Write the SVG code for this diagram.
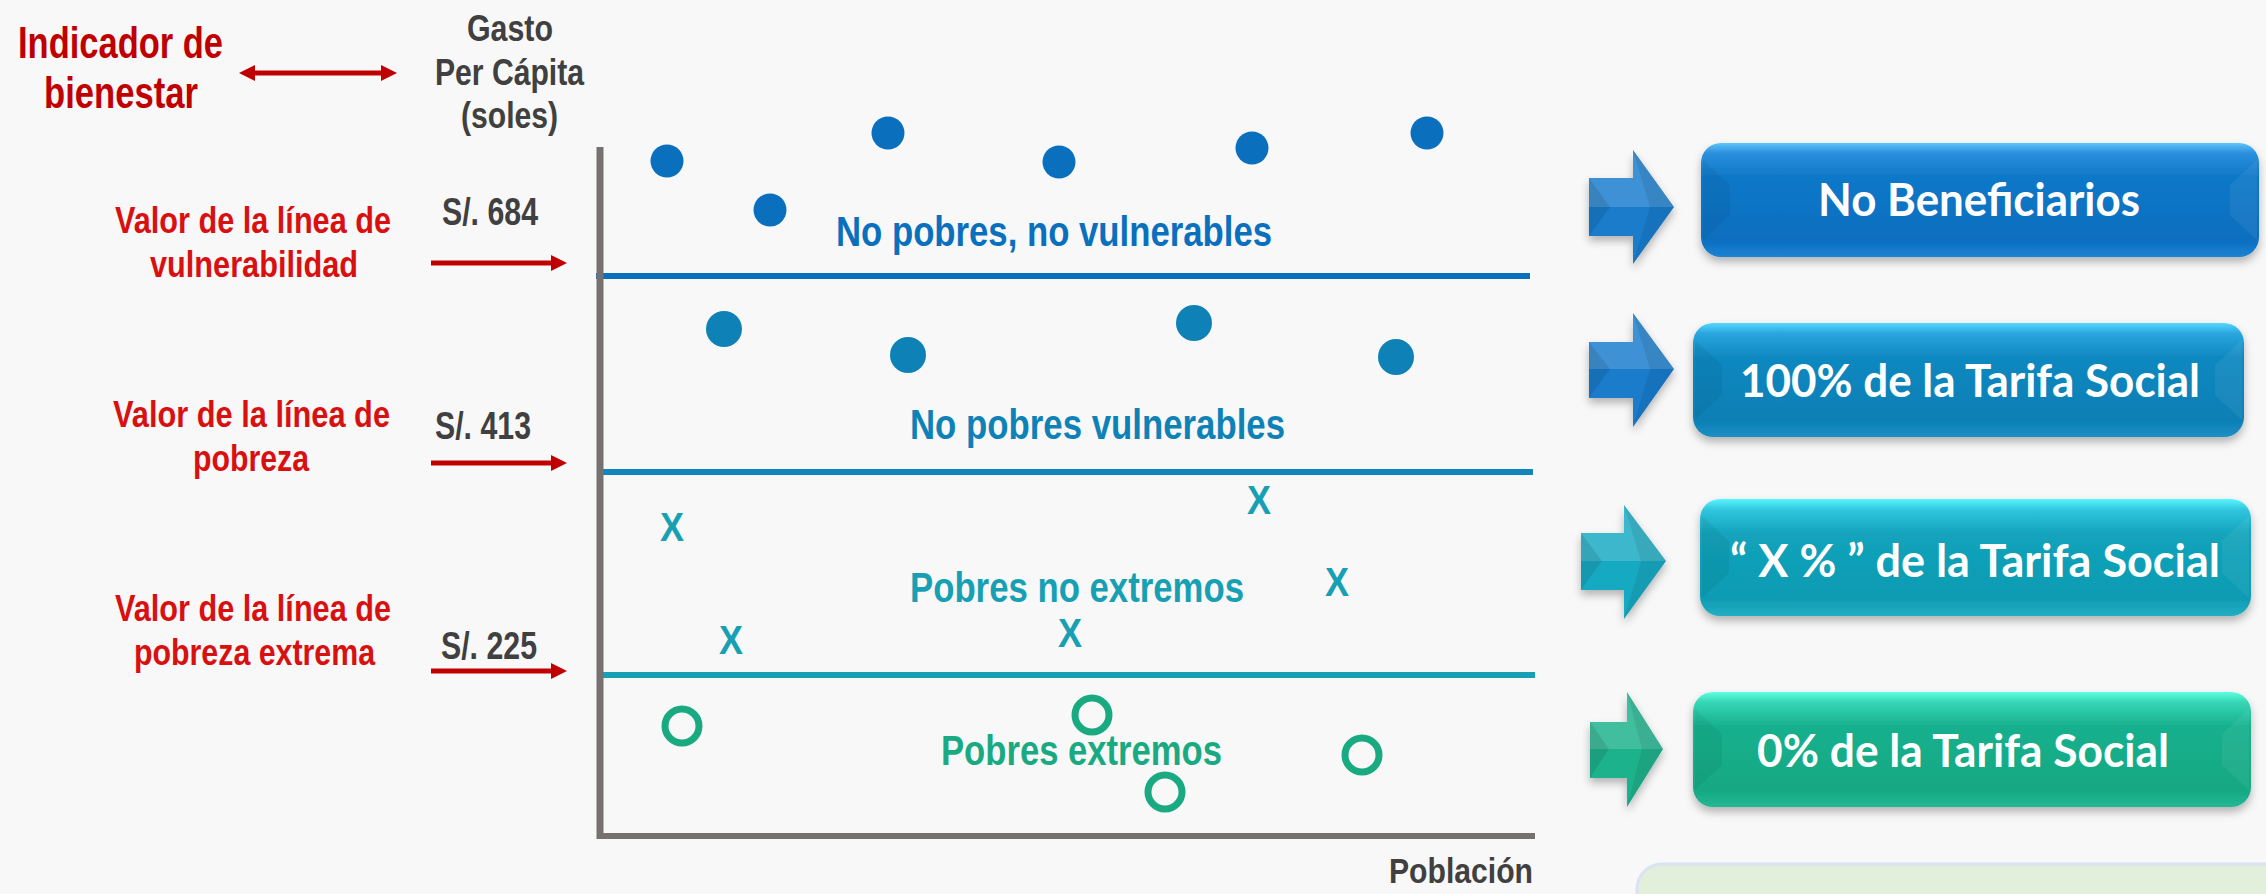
<svg xmlns="http://www.w3.org/2000/svg" width="2266" height="894" viewBox="0 0 2266 894">
<defs>
<style>
.nar{font-family:"Liberation Sans Narrow","Liberation Sans",Arial,sans-serif;font-weight:bold}
.red1{fill:#c00000}
.red2{fill:#d81010}
.gray{fill:#404040}
.bx{font-family:Lato,"Open Sans","Liberation Sans",sans-serif;font-weight:bold;fill:#ffffff;font-size:45px;text-anchor:middle}
.rl{stroke-width:5;fill:none}
</style>
<marker id="rh" viewBox="0 0 16 16" refX="2" refY="8" markerWidth="16" markerHeight="16" markerUnits="userSpaceOnUse" orient="auto-start-reverse">
<path d="M0,0 L16,8 L0,16 z" fill="#c00000"/>
</marker>
<filter id="sh" x="-10%" y="-20%" width="120%" height="150%">
<feDropShadow dx="0" dy="5" stdDeviation="4" flood-color="#000" flood-opacity="0.28"/>
</filter>
<linearGradient id="g1" x1="0" y1="0" x2="0" y2="1">
<stop offset="0" stop-color="#5ec4fa"/><stop offset="0.09" stop-color="#2a8fdc"/><stop offset="0.3" stop-color="#0f78c8"/><stop offset="0.85" stop-color="#0a6ebf"/><stop offset="1" stop-color="#1c82d2"/>
</linearGradient>
<linearGradient id="g2" x1="0" y1="0" x2="0" y2="1">
<stop offset="0" stop-color="#55d8ff"/><stop offset="0.09" stop-color="#2aa6de"/><stop offset="0.3" stop-color="#1088c0"/><stop offset="0.85" stop-color="#0b7fb5"/><stop offset="1" stop-color="#1c90c6"/>
</linearGradient>
<linearGradient id="g3" x1="0" y1="0" x2="0" y2="1">
<stop offset="0" stop-color="#58f6ff"/><stop offset="0.09" stop-color="#30c6de"/><stop offset="0.3" stop-color="#12a3bb"/><stop offset="0.85" stop-color="#0f9bb2"/><stop offset="1" stop-color="#22afc4"/>
</linearGradient>
<linearGradient id="g4" x1="0" y1="0" x2="0" y2="1">
<stop offset="0" stop-color="#5cffe0"/><stop offset="0.09" stop-color="#36d6b4"/><stop offset="0.3" stop-color="#18b08e"/><stop offset="0.85" stop-color="#13a882"/><stop offset="1" stop-color="#25b894"/>
</linearGradient>
</defs>
<rect x="0" y="0" width="2266" height="894" fill="#f8f8f8"/>

<g id="header">
<text class="nar red1" x="18" y="58" font-size="45" textLength="205" lengthAdjust="spacingAndGlyphs">Indicador de</text>
<text class="nar red1" x="44" y="108" font-size="45" textLength="154" lengthAdjust="spacingAndGlyphs">bienestar</text>
<text class="nar gray" x="467" y="41" font-size="37" textLength="86" lengthAdjust="spacingAndGlyphs">Gasto</text>
<text class="nar gray" x="435" y="85" font-size="37" textLength="149" lengthAdjust="spacingAndGlyphs">Per Cápita</text>
<text class="nar gray" x="461" y="128" font-size="37" textLength="97" lengthAdjust="spacingAndGlyphs">(soles)</text>
</g>

<g id="label-vulnerabilidad">
<text class="nar red2" x="115" y="233" font-size="36" textLength="276" lengthAdjust="spacingAndGlyphs">Valor de la línea de</text>
<text class="nar red2" x="150" y="277" font-size="36" textLength="208" lengthAdjust="spacingAndGlyphs">vulnerabilidad</text>
<text class="nar gray" x="442" y="225" font-size="38" textLength="96" lengthAdjust="spacingAndGlyphs">S/. 684</text>
</g>
<g id="label-pobreza">
<text class="nar red2" x="113" y="427" font-size="36" textLength="277" lengthAdjust="spacingAndGlyphs">Valor de la línea de</text>
<text class="nar red2" x="193" y="471" font-size="36" textLength="116" lengthAdjust="spacingAndGlyphs">pobreza</text>
<text class="nar gray" x="435" y="439" font-size="38" textLength="96" lengthAdjust="spacingAndGlyphs">S/. 413</text>
</g>
<g id="label-extrema">
<text class="nar red2" x="115" y="621" font-size="36" textLength="276" lengthAdjust="spacingAndGlyphs">Valor de la línea de</text>
<text class="nar red2" x="134" y="665" font-size="36" textLength="241" lengthAdjust="spacingAndGlyphs">pobreza extrema</text>
<text class="nar gray" x="441" y="659" font-size="38" textLength="96" lengthAdjust="spacingAndGlyphs">S/. 225</text>
</g>

<g id="connectors">
<line class="rl" x1="253" y1="73" x2="383" y2="73" stroke="#c00000" marker-start="url(#rh)" marker-end="url(#rh)"/>
<line class="rl" x1="431" y1="263" x2="553" y2="263" stroke="#c00000" marker-end="url(#rh)"/>
<line class="rl" x1="431" y1="463" x2="553" y2="463" stroke="#c00000" marker-end="url(#rh)"/>
<line class="rl" x1="431" y1="671" x2="553" y2="671" stroke="#c00000" marker-end="url(#rh)"/>
</g>

<g id="chart">
<line x1="596" y1="276" x2="1530" y2="276" stroke="#0a70be" stroke-width="6"/>
<line x1="602" y1="472" x2="1533" y2="472" stroke="#1184bb" stroke-width="6"/>
<line x1="602" y1="675" x2="1535" y2="675" stroke="#17a0b4" stroke-width="6"/>
<line x1="600" y1="147" x2="600" y2="839" stroke="#767171" stroke-width="7"/>
<line x1="597" y1="836" x2="1535" y2="836" stroke="#767171" stroke-width="6"/>
<text class="nar gray" x="1389" y="883" font-size="35" textLength="144" lengthAdjust="spacingAndGlyphs">Población</text>
</g>

<g id="no-pobres-no-vulnerables" fill="#0a70be">
<circle cx="667" cy="161" r="16.5"/><circle cx="770" cy="210" r="16.5"/><circle cx="888" cy="133" r="16.5"/>
<circle cx="1059" cy="162" r="16.5"/><circle cx="1252" cy="148" r="16.5"/><circle cx="1427" cy="133" r="16.5"/>
<text class="nar" x="836" y="246" font-size="43" textLength="436" lengthAdjust="spacingAndGlyphs">No pobres, no vulnerables</text>
</g>
<g id="no-pobres-vulnerables" fill="#0e82b7">
<circle cx="724" cy="329" r="18"/><circle cx="908" cy="355" r="18"/><circle cx="1194" cy="323" r="18"/><circle cx="1396" cy="357" r="18"/>
<text class="nar" x="910" y="439" font-size="43" textLength="375" lengthAdjust="spacingAndGlyphs">No pobres vulnerables</text>
</g>
<g id="pobres-no-extremos" fill="#17a0b4">
<text class="nar" x="660" y="541" font-size="40" textLength="24" lengthAdjust="spacingAndGlyphs">X</text>
<text class="nar" x="1247" y="514" font-size="40" textLength="24" lengthAdjust="spacingAndGlyphs">X</text>
<text class="nar" x="1325" y="596" font-size="40" textLength="24" lengthAdjust="spacingAndGlyphs">X</text>
<text class="nar" x="719" y="654" font-size="40" textLength="24" lengthAdjust="spacingAndGlyphs">X</text>
<text class="nar" x="1058" y="647" font-size="40" textLength="24" lengthAdjust="spacingAndGlyphs">X</text>
<text class="nar" x="910" y="602" font-size="43" textLength="334" lengthAdjust="spacingAndGlyphs">Pobres no extremos</text>
</g>
<g id="pobres-extremos">
<g fill="none" stroke="#1aaa82" stroke-width="7">
<circle cx="682" cy="726" r="17"/><circle cx="1092" cy="715" r="17"/><circle cx="1362" cy="755" r="17"/><circle cx="1165" cy="792" r="17"/>
</g>
<text class="nar" fill="#1aaa82" x="941" y="765" font-size="43" textLength="281" lengthAdjust="spacingAndGlyphs">Pobres extremos</text>
</g>

<g id="arrow1" filter="url(#sh)">
<polygon points="1589,178 1633,178 1633,150 1674,207 1633,264 1633,236 1589,236" fill="#1a7ccc"/>
<polygon points="1589,178 1633,178 1633,150 1674,207 1589,207" fill="#ffffff" opacity="0.16"/>
<polygon points="1589,178 1610,207 1589,236" fill="#000" opacity="0.1"/>
<polygon points="1633,150 1650,207 1633,264 1674,207" fill="#000" opacity="0.08"/>
</g>
<g id="box-no-beneficiarios">
<rect x="1701" y="143" width="558" height="114" rx="20" fill="url(#g1)" filter="url(#sh)"/>
<polygon points="1703,160 1730,185 1730,215 1703,240" fill="#000" opacity="0.05"/>
<polygon points="2257,160 2230,185 2230,215 2257,240" fill="#fff" opacity="0.06"/>
<text class="bx" x="1979" y="216" textLength="322" lengthAdjust="spacingAndGlyphs">No Beneficiarios</text>
</g>

<g id="arrow2" filter="url(#sh)">
<polygon points="1589,342 1633,342 1633,313 1674,369 1633,427 1633,398 1589,398" fill="#1a7ccc"/>
<polygon points="1589,342 1633,342 1633,313 1674,369 1589,369" fill="#ffffff" opacity="0.16"/>
<polygon points="1589,342 1610,369 1589,398" fill="#000" opacity="0.1"/>
<polygon points="1633,313 1650,369 1633,427 1674,369" fill="#000" opacity="0.08"/>
</g>
<g id="box-100">
<rect x="1693" y="323" width="551" height="114" rx="20" fill="url(#g2)" filter="url(#sh)"/>
<polygon points="1695,340 1722,365 1722,395 1695,420" fill="#000" opacity="0.05"/>
<polygon points="2242,340 2215,365 2215,395 2242,420" fill="#fff" opacity="0.06"/>
<text class="bx" x="1970" y="397" textLength="460" lengthAdjust="spacingAndGlyphs">100% de la Tarifa Social</text>
</g>

<g id="arrow3" filter="url(#sh)">
<polygon points="1581,533 1624,533 1624,505 1666,561 1624,619 1624,590 1581,590" fill="#17aac2"/>
<polygon points="1581,533 1624,533 1624,505 1666,561 1581,561" fill="#ffffff" opacity="0.16"/>
<polygon points="1581,533 1602,561 1581,590" fill="#000" opacity="0.1"/>
<polygon points="1624,505 1641,561 1624,619 1666,561" fill="#000" opacity="0.08"/>
</g>
<g id="box-x">
<rect x="1700" y="499" width="551" height="117" rx="20" fill="url(#g3)" filter="url(#sh)"/>
<polygon points="1702,516 1729,541 1729,573 1702,598" fill="#000" opacity="0.05"/>
<polygon points="2249,516 2222,541 2222,573 2249,598" fill="#fff" opacity="0.06"/>
<text class="bx" x="1975" y="577" textLength="490" lengthAdjust="spacingAndGlyphs">“ X % ” de la Tarifa Social</text>
</g>

<g id="arrow4" filter="url(#sh)">
<polygon points="1590,722 1627,722 1627,692 1663,749 1627,807 1627,778 1590,778" fill="#1db28c"/>
<polygon points="1590,722 1627,722 1627,692 1663,749 1590,749" fill="#ffffff" opacity="0.16"/>
<polygon points="1590,722 1609,749 1590,778" fill="#000" opacity="0.1"/>
<polygon points="1627,692 1642,749 1627,807 1663,749" fill="#000" opacity="0.08"/>
</g>
<g id="box-0">
<rect x="1693" y="692" width="558" height="115" rx="20" fill="url(#g4)" filter="url(#sh)"/>
<polygon points="1695,709 1722,734 1722,765 1695,790" fill="#000" opacity="0.05"/>
<polygon points="2249,709 2222,734 2222,765 2249,790" fill="#fff" opacity="0.06"/>
<text class="bx" x="1963" y="767" textLength="412" lengthAdjust="spacingAndGlyphs">0% de la Tarifa Social</text>
</g>

<g id="note">
<rect x="1637" y="864" width="660" height="80" rx="25" fill="#e2efda" stroke="#dae3f3" stroke-width="3"/>
</g>
</svg>
